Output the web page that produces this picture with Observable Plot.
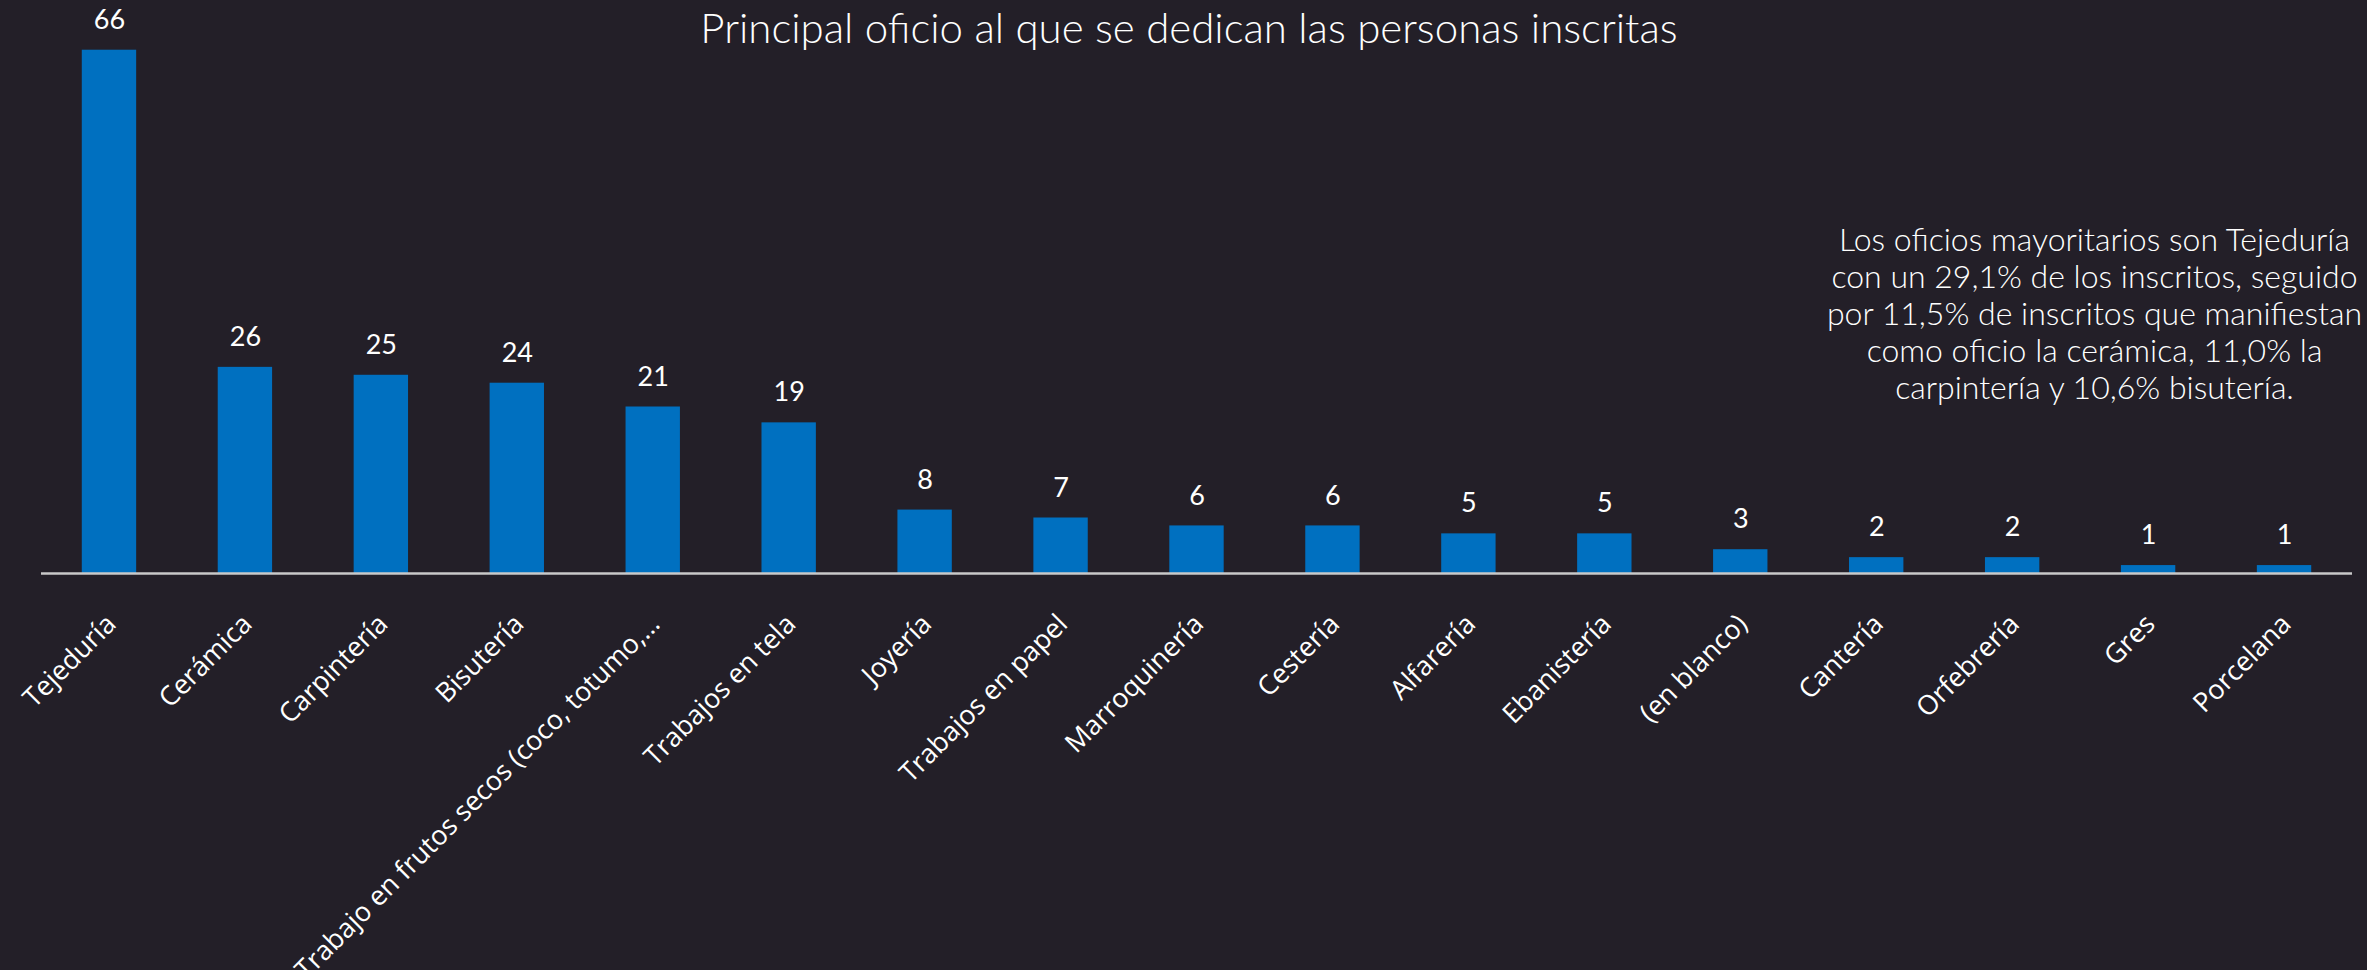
<!DOCTYPE html>
<html>
<head>
<meta charset="utf-8">
<script src="https://cdn.jsdelivr.net/npm/d3@7"></script>
<script src="https://cdn.jsdelivr.net/npm/@observablehq/plot@0.6"></script>
<style>
  html, body { margin: 0; padding: 0; background: #231f28; }
  #chart svg { display: block; }
</style>
</head>
<body>
<div id="chart"></div>
<script>
const categories = [
  "Tejeduría", "Cerámica", "Carpintería", "Bisutería",
  "Trabajo en frutos secos (coco, totumo,…", "Trabajos en tela", "Joyería",
  "Trabajos en papel", "Marroquinería", "Cestería", "Alfarería", "Ebanistería",
  "(en blanco)", "Cantería", "Orfebrería", "Gres", "Porcelana"
];
const values = [66, 26, 25, 24, 21, 19, 8, 7, 6, 6, 5, 5, 3, 2, 2, 1, 1];
const titleText = "Principal oficio al que se dedican las personas inscritas";
const noteLines = [
  "Los oficios mayoritarios son Tejeduría",
  "con un 29,1% de los inscritos, seguido",
  "por 11,5% de inscritos que manifiestan",
  "como oficio la cerámica, 11,0% la",
  "carpintería y 10,6% bisutería."
];

const data = categories.map((c, i) => ({ category: c, value: values[i] }));

const W = 2367, H = 970;
const chart = Plot.plot({
  width: W,
  height: H,
  marginLeft: 41,
  marginRight: 15,
  marginTop: 18,
  marginBottom: 397,
  style: { background: "#231f28", color: "#ffffff", overflow: "visible" },
  x: { domain: categories, paddingInner: 0.6, paddingOuter: 0.3, round: false, axis: null },
  y: { domain: [0, 70], axis: null },
  marks: [
    Plot.barY(data, { x: "category", y: "value", fill: "#0070c0" }),
    Plot.ruleY([0], { stroke: "#c9c9c9", strokeWidth: 2.5 }),
    Plot.text(data, {
      x: "category", y: "value", text: d => String(d.value),
      dy: -30, lineAnchor: "middle", fill: "#ffffff",
      fontSize: 27, fontFamily: "Lato, 'Open Sans', sans-serif"
    }),
    Plot.text(data, {
      x: "category", y: () => 0, text: "category",
      rotate: -45, textAnchor: "end", lineAnchor: "middle",
      dx: 2, dy: 46, fill: "#ffffff",
      fontSize: 27, fontFamily: "'Open Sans', 'Noto Sans', sans-serif"
    }),
    Plot.text([titleText], {
      frameAnchor: "top", text: d => d, dx: -8, dy: 11,
      lineAnchor: "middle", fill: "#ffffff",
      fontSize: 42, fontWeight: 300, fontFamily: "Lato, 'Open Sans', sans-serif"
    }),
    Plot.text([noteLines.join("\n")], {
      frameAnchor: "top-right", text: d => d, dx: -258, dy: 295,
      textAnchor: "middle", lineAnchor: "middle", lineHeight: 37 / 32,
      fill: "#ffffff",
      fontSize: 32, fontWeight: 300, fontFamily: "Lato, 'Open Sans', sans-serif"
    })
  ]
});
document.getElementById("chart").appendChild(chart);
</script>
</body>
</html>
